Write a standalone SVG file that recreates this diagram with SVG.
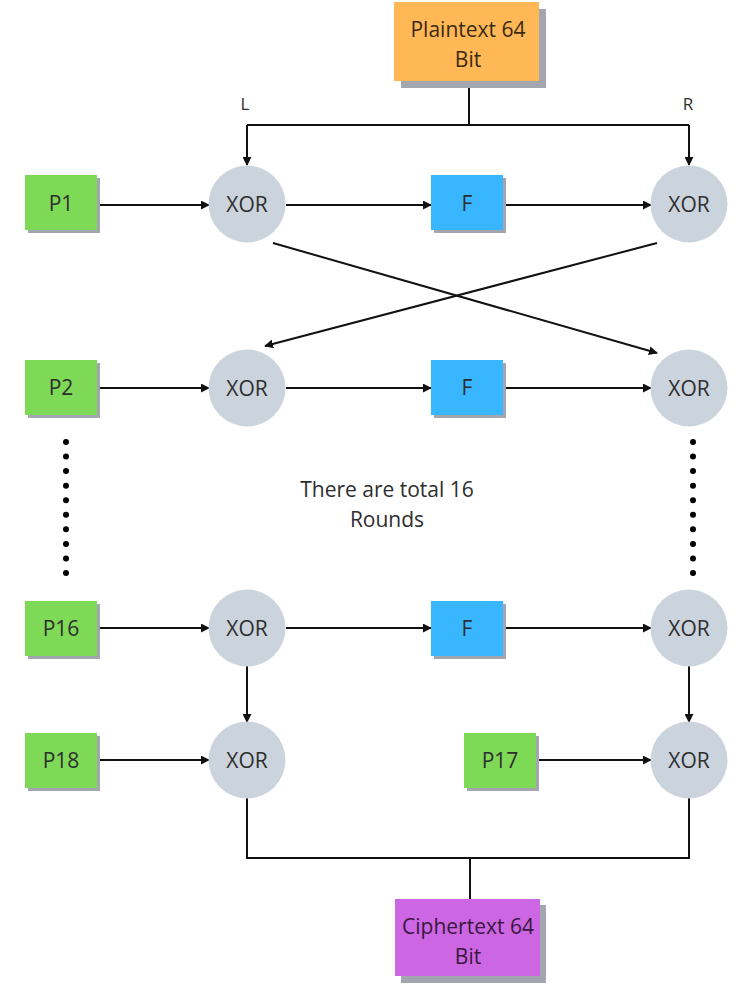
<svg xmlns="http://www.w3.org/2000/svg" width="754" height="986" viewBox="0 0 754 986">
<defs>
<style>
text{font-family:"Open Sans","Noto Sans","Liberation Sans",sans-serif;font-size:21px;fill:#2e2e2e;text-anchor:middle;dominant-baseline:central}
.p{fill:#7ed957}
.f{fill:#38b6ff}
.x{fill:#cbd3dd}
.sh{fill:#a3a6ae}
.ln{stroke:#111;stroke-width:2;fill:none}
.ar{stroke:#111;stroke-width:2;fill:none;marker-end:url(#ah)}
.dot{fill:#000}
</style>
<marker id="ah" viewBox="0 0 10 10" refX="9" refY="5" markerWidth="4.5" markerHeight="4.5" orient="auto" markerUnits="strokeWidth">
<path d="M0,0 L10,5 L0,10 z" fill="#111"/>
</marker>
</defs>
<rect width="754" height="986" fill="#fff"/>

<g id="connectors">
<line class="ln" x1="469" y1="81" x2="469" y2="125"/>
<polyline class="ln" points="247,125 689,125"/>
<line class="ar" x1="247" y1="125" x2="247" y2="165"/>
<line class="ar" x1="689" y1="125" x2="689" y2="165"/>

<line class="ar" x1="100" y1="205" x2="209" y2="205"/>
<line class="ar" x1="286" y1="205" x2="431" y2="205"/>
<line class="ar" x1="505" y1="205" x2="651" y2="205"/>

<line class="ar" x1="273" y1="243" x2="657" y2="353"/>
<line class="ar" x1="657" y1="243" x2="265" y2="346"/>

<line class="ar" x1="100" y1="388" x2="209" y2="388"/>
<line class="ar" x1="286" y1="388" x2="431" y2="388"/>
<line class="ar" x1="505" y1="388" x2="651" y2="388"/>

<line class="ar" x1="100" y1="628" x2="209" y2="628"/>
<line class="ar" x1="286" y1="628" x2="431" y2="628"/>
<line class="ar" x1="505" y1="628" x2="651" y2="628"/>

<line class="ar" x1="247" y1="666" x2="247" y2="722"/>
<line class="ar" x1="689" y1="666" x2="689" y2="722"/>

<line class="ar" x1="100" y1="760" x2="209" y2="760"/>
<line class="ar" x1="538" y1="760" x2="651" y2="760"/>

<polyline class="ln" points="247,798 247,858 689,858 689,798"/>
<line class="ln" x1="470" y1="858" x2="470" y2="899"/>
</g>

<g id="plaintext">
<rect class="sh" x="401" y="9" width="145" height="79"/>
<rect x="394" y="2" width="145" height="79" fill="#ffb855"/>
<text x="468" y="29" style="fill:#3a2a14">Plaintext 64</text>
<text x="468" y="59" style="fill:#3a2a14">Bit</text>
</g>

<g id="labels">
<text x="245" y="103" style="font-size:17px">L</text>
<text x="688" y="103" style="font-size:17px">R</text>
<text x="387" y="489">There are total 16</text>
<text x="387" y="519">Rounds</text>
</g>

<g id="p1"><rect class="sh" x="28" y="178" width="72" height="55"/><rect class="p" x="25" y="175" width="72" height="55"/><text x="61" y="203">P1</text></g>
<g id="xor1l"><circle class="x" cx="247" cy="204" r="38.5"/><text x="247" y="204">XOR</text></g>
<g id="f1"><rect class="sh" x="434" y="178" width="72" height="55"/><rect class="f" x="431" y="175" width="72" height="55"/><text x="467" y="203">F</text></g>
<g id="xor1r"><circle class="x" cx="689" cy="204" r="38.5"/><text x="689" y="204">XOR</text></g>

<g id="p2"><rect class="sh" x="28" y="363" width="72" height="55"/><rect class="p" x="25" y="360" width="72" height="55"/><text x="61" y="387">P2</text></g>
<g id="xor2l"><circle class="x" cx="247" cy="388" r="38.5"/><text x="247" y="388">XOR</text></g>
<g id="f2"><rect class="sh" x="434" y="363" width="72" height="55"/><rect class="f" x="431" y="360" width="72" height="55"/><text x="467" y="387">F</text></g>
<g id="xor2r"><circle class="x" cx="689" cy="388" r="38.5"/><text x="689" y="388">XOR</text></g>

<g id="dots-left">
<circle class="dot" cx="66" cy="442" r="3"/><circle class="dot" cx="66" cy="456.6" r="3"/><circle class="dot" cx="66" cy="471.1" r="3"/><circle class="dot" cx="66" cy="485.7" r="3"/><circle class="dot" cx="66" cy="500.2" r="3"/><circle class="dot" cx="66" cy="514.8" r="3"/><circle class="dot" cx="66" cy="529.3" r="3"/><circle class="dot" cx="66" cy="543.9" r="3"/><circle class="dot" cx="66" cy="558.4" r="3"/><circle class="dot" cx="66" cy="573" r="3"/>
</g>
<g id="dots-right">
<circle class="dot" cx="693" cy="442" r="3"/><circle class="dot" cx="693" cy="456.6" r="3"/><circle class="dot" cx="693" cy="471.1" r="3"/><circle class="dot" cx="693" cy="485.7" r="3"/><circle class="dot" cx="693" cy="500.2" r="3"/><circle class="dot" cx="693" cy="514.8" r="3"/><circle class="dot" cx="693" cy="529.3" r="3"/><circle class="dot" cx="693" cy="543.9" r="3"/><circle class="dot" cx="693" cy="558.4" r="3"/><circle class="dot" cx="693" cy="573" r="3"/>
</g>

<g id="p16"><rect class="sh" x="28" y="604" width="72" height="55"/><rect class="p" x="25" y="601" width="72" height="55"/><text x="61" y="628">P16</text></g>
<g id="xor16l"><circle class="x" cx="247" cy="628" r="38.5"/><text x="247" y="628">XOR</text></g>
<g id="f16"><rect class="sh" x="434" y="604" width="72" height="55"/><rect class="f" x="431" y="601" width="72" height="55"/><text x="467" y="628">F</text></g>
<g id="xor16r"><circle class="x" cx="689" cy="628" r="38.5"/><text x="689" y="628">XOR</text></g>

<g id="p18"><rect class="sh" x="28" y="736" width="72" height="55"/><rect class="p" x="25" y="733" width="72" height="55"/><text x="61" y="760">P18</text></g>
<g id="xor18"><circle class="x" cx="247" cy="760" r="38.5"/><text x="247" y="760">XOR</text></g>
<g id="p17"><rect class="sh" x="467" y="736" width="72" height="55"/><rect class="p" x="464" y="733" width="72" height="55"/><text x="500" y="760">P17</text></g>
<g id="xor17"><circle class="x" cx="689" cy="760" r="38.5"/><text x="689" y="760">XOR</text></g>

<g id="ciphertext">
<rect class="sh" x="401" y="905" width="145" height="78"/>
<rect x="395" y="899" width="145" height="77" fill="#cc66e3"/>
<text x="468" y="926" style="fill:#3a1840">Ciphertext 64</text>
<text x="468" y="956" style="fill:#3a1840">Bit</text>
</g>
</svg>
